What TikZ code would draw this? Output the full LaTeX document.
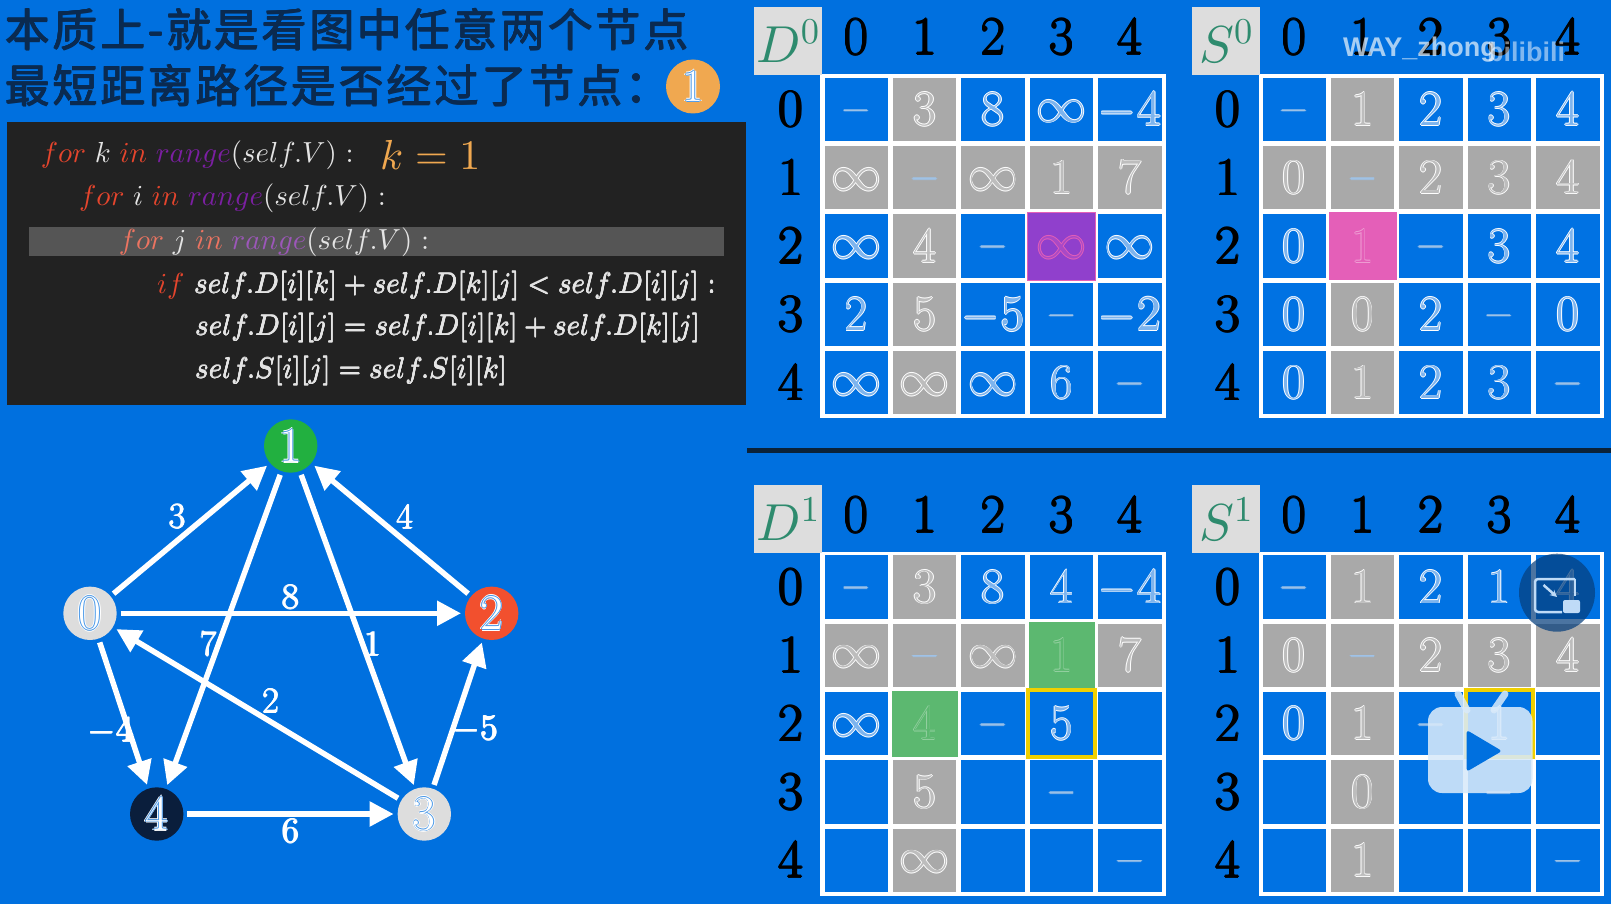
\documentclass[tikz,border=0pt]{standalone}
\usepackage{fontspec}
\usetikzlibrary{arrows.meta}
\DeclareFontShape{OML}{cmm}{m}{it}{<-> cmmi10}{}
\DeclareFontShape{OMS}{cmsy}{m}{n}{<-> cmsy10}{}
\DeclareFontShape{OT1}{cmr}{m}{n}{<-> cmr10}{}
\newfontfamily\cjk[LetterSpace=6]{Noto Sans CJK SC}
\newfontfamily\wmfont{Liberation Sans}
\definecolor{bgblue}{HTML}{0070DF}
\definecolor{cellblue}{HTML}{0072E3}
\definecolor{cellgray}{HTML}{A9A9A9}
\definecolor{boxgray}{HTML}{DDDDDD}
\definecolor{holblue}{HTML}{7DB4EE}
\definecolor{holgray}{HTML}{BDBDBD}
\definecolor{titlec}{HTML}{0A2A50}
\definecolor{dashc}{HTML}{9FC3E8}
\definecolor{navy}{HTML}{0B2238}
\definecolor{codebg}{HTML}{222222}
\definecolor{hilite}{HTML}{555555}
\definecolor{kwred}{HTML}{E5452D}
\definecolor{kwpur}{HTML}{7B1FA2}
\definecolor{codew}{HTML}{E4E4E4}
\definecolor{orangec}{HTML}{F0A850}
\definecolor{dgreen}{HTML}{2E8B6E}
\definecolor{ngreen}{HTML}{22B040}
\definecolor{nred}{HTML}{F2502E}
\definecolor{nnavy}{HTML}{0A1E3C}
\definecolor{cgreen}{HTML}{5CB870}
\definecolor{cpurple}{HTML}{9040CC}
\definecolor{cpink}{HTML}{E45FB8}
\definecolor{yellowc}{HTML}{F0D000}
\newsavebox\hb
\newcommand\hol[4][.8pt]{\setbox\hb=\hbox{#4}\leavevmode{\color{#2}%
  \rlap{\kern#1\copy\hb}\rlap{\kern-#1\copy\hb}\rlap{\raisebox{#1}{\copy\hb}}\rlap{\raisebox{-#1}{\copy\hb}}}{\color{#3}\copy\hb}}
\newcommand\ndig[1]{\rlap{\hol[1.7pt]{white}{white}{#1}}\rlap{\hol[.8pt]{holblue!60!bgblue}{holblue!60!bgblue}{#1}}{\color{white}#1}}
\newcommand\I{\raisebox{.07em}{$\infty$}}
\newcommand\M[1]{$-#1$}
\newcommand\Dh{\textcolor{dashc}{\raisebox{.03em}{–}}}
\newcommand\N{}
\newcommand\codefs{\fontsize{29}{34}\selectfont}
\newcommand\codet[1]{\hol[.2pt]{codew}{codew}{#1}}
\tikzset{
  x=1pt,y=-1pt,
  celln/.style={rectangle,inner sep=0pt,outer sep=0pt,minimum width=63.4pt,minimum height=63.4pt,
    font=\fontsize{50}{60}\selectfont,text height=32.2pt,text depth=0pt},
  hdr/.style={inner sep=0pt,font=\fontsize{54}{64}\selectfont,text height=34.8pt,text depth=0pt,text=black},
  lblbox/.style={rectangle,fill=boxgray,inner sep=0pt,minimum width=68pt,minimum height=68pt,
    font=\fontsize{52}{60}\selectfont,text=dgreen},
  gridbg/.style={fill=white,draw=none},
  codeline/.style={anchor=base west,inner sep=0pt,font=\codefs,text=codew},
  titleline/.style={anchor=base west,inner sep=0pt,font=\fontsize{45}{50}\selectfont\cjk},
  gnode/.style={circle,inner sep=0pt,outer sep=4pt,minimum size=53.4pt,font=\fontsize{50}{60}\selectfont,text height=32.2pt,text depth=0pt},
  edge/.style={draw=white,line width=5.5pt,-{Triangle[length=24pt,width=24pt]}},
  elabel/.style={inner sep=0pt,text=white,font=\fontsize{36}{40}\selectfont,text height=23.2pt,text depth=0pt},
  yellowbox/.style={rectangle,draw=yellowc,line width=3.5pt,fill=none,minimum width=67pt,minimum height=67pt,inner sep=0pt},
}
\newcommand\elab[1]{\hol[.6pt]{white}{white}{#1}}
\newcommand\gridtab[4]{%
  \foreach \rowvals [count=\r from 0] in {#4} {
    \foreach \v [count=\c from 0] in \rowvals {
      \pgfmathsetmacro\cx{#2+68.4*\c}
      \pgfmathsetmacro\cy{#3+68.3*\r}
      \def\cf{cellblue}\def\ci{holblue}
      \ifnum\r=1 \def\cf{cellgray}\def\ci{holgray}\fi
      \ifnum\c=1 \def\cf{cellgray}\def\ci{holgray}\fi
      \node[celln,fill=\cf] (#1-\r-\c) at (\cx,\cy) {\hol{white}{\ci}{\v}};
    }
  }
}
\newcommand\headers[5]{% prefix, x col0, y header, x rowhdr, y row0
  \foreach \h [count=\c from 0] in {0,1,2,3,4} {
    \pgfmathsetmacro\cx{#2+68.4*\c}
    \pgfmathsetmacro\cy{#5+68.3*\c}
    \node[hdr] (#1-c\c) at (\cx,#3) {\hol[.7pt]{black}{black}{\h}};
    \node[hdr] (#1-r\c) at (#4,\cy) {\hol[.7pt]{black}{black}{\h}};
  }
}
\begin{document}
\begin{tikzpicture}
\useasboundingbox (0,0) rectangle (1611,904);
\fill[bgblue] (0,0) rectangle (1611,904);

% title
\node[titleline] (title1) at (5,47) {\hol[.45pt]{titlec}{titlec}{本质上-就是看图中任意两个节点}};
\node[titleline] (title2) at (5,103) {\hol[.45pt]{titlec}{titlec}{最短距离路径是否经过了节点：}};
\node[circle,fill=orangec,inner sep=0pt,minimum size=54pt,font=\fontsize{46}{50}\selectfont,text height=29.6pt,text depth=0pt] (titlenode) at (693,86.5) {\ndig{1}};

% code panel
\fill[codebg] (6.5,122) rectangle (746,405);
\fill[hilite] (28.7,227) rectangle (724,256);
\node[codeline] (c1) at (40.7,163) {$\textcolor{kwred}{for}\ k\ \textcolor{kwred}{in}\ \textcolor{kwpur}{range}(self.V)\ {:}$};
\node[anchor=base west,inner sep=0pt,text=orangec,font=\fontsize{42}{46}\selectfont] (kval) at (380,170) {$k=1$};
\node[codeline] (c2) at (79,206) {$\textcolor{kwred}{for}\ i\ \textcolor{kwred}{in}\ \textcolor{kwpur}{range}(self.V)\ {:}$};
\node[codeline] (c3) at (118.7,249) {$\textcolor{kwred!75!white}{for}\ j\ \textcolor{kwred!75!white}{in}\ \textcolor{kwpur!75!white}{range}(self.V)\ {:}$};
\node[codeline] (c4) at (157,293) {$\textcolor{kwred}{if}$};
\node[codeline] (c4b) at (194,293) {\codet{$self.D[i][k]+self.D[k][j]<self.D[i][j]\ {:}$}};
\node[codeline] (c5) at (195,335) {\codet{$self.D[i][j]=self.D[i][k]+self.D[k][j]$}};
\node[codeline] (c6) at (195,378) {\codet{$self.S[i][j]=self.S[i][k]$}};

% graph
\node[gnode,fill=ngreen] (n1) at (290.7,446) {\ndig{1}};
\node[gnode,fill=boxgray] (n0) at (90,613.3) {\ndig{0}};
\node[gnode,fill=nred] (n2) at (491.7,613.3) {\ndig{2}};
\node[gnode,fill=boxgray] (n3) at (424.3,814) {\ndig{3}};
\node[gnode,fill=nnavy] (n4) at (156.7,814) {\ndig{4}};
\draw[edge] (n0) -- (n1);
\draw[edge] (n0) -- (n2);
\draw[edge] (n0) -- (n4);
\draw[edge] (n1) -- (n3);
\draw[edge] (n1) -- (n4);
\draw[edge] (n2) -- (n1);
\draw[edge] (n3) -- (n0);
\draw[edge] (n3) -- (n2);
\draw[edge] (n4) -- (n3);
\node[elabel] (e01) at (177.3,516.7) {\elab{3}};
\node[elabel] (e21) at (405,517.3) {\elab{4}};
\node[elabel] (e02) at (290.7,597.3) {\elab{8}};
\node[elabel] (e14) at (208.3,644.3) {\elab{7}};
\node[elabel] (e13) at (372.7,644.3) {\elab{1}};
\node[elabel] (e30) at (271,701) {\elab{2}};
\node[elabel] (e04) at (110.7,730) {\elab{$-4$}};
\node[elabel] (e32) at (475,728.3) {\elab{$-5$}};
\node[elabel] (e43) at (290.7,831) {\elab{6}};

% separator
\coordinate (sepl) at (747,450.5);
\coordinate (sepr) at (1611,450.5);
\draw[navy,line width=4.5pt] (sepl) -- (sepr);

% D0
\fill[gridbg] (820.3,74) rectangle (1165.7,418);
\gridtab{Da}{856.3}{109.5}{{\Dh,3,8,\I,\M4},{\I,\Dh,\I,1,7},{\I,4,\Dh,\N,\I},{2,5,\M5,\Dh,\M2},{\I,\I,\I,6,\Dh}}
\node[lblbox] (Dalbl) at (788,41) {$D^0$};
\headers{Da}{856.3}{37}{791}{109.5}
\node[celln,minimum width=68pt,minimum height=68pt,fill=cpurple,draw=cpink,line width=1pt] (Dahl) at (Da-2-3) {\hol{cpink}{cpurple!70!cpink}{\I}};

% S0
\fill[gridbg] (1258.5,74) rectangle (1604,418);
\gridtab{Sa}{1294.2}{109.5}{{\Dh,1,2,3,4},{0,\Dh,2,3,4},{0,\N,\Dh,3,4},{0,0,2,\Dh,0},{0,1,2,3,\Dh}}
\node[lblbox] (Salbl) at (1226,41) {$S^0$};
\headers{Sa}{1294.2}{37}{1228}{109.5}
\node[celln,minimum width=68pt,minimum height=68pt,fill=cpink] (Sahl) at (Sa-2-1) {\hol{cpink!60!white}{cpink}{1}};

% D1
\fill[gridbg] (820.3,551.7) rectangle (1165.7,896);
\gridtab{Db}{856.3}{587}{{\Dh,3,8,4,\M4},{\I,\Dh,\I,\N,7},{\I,\N,\Dh,5,\N},{\N,5,\N,\Dh,\N},{\N,\I,\N,\N,\Dh}}
\node[lblbox] (Dblbl) at (788,519) {$D^1$};
\headers{Db}{856.3}{515}{791}{587}
\node[celln,minimum width=66pt,minimum height=66pt,fill=cgreen] (Dbg1) at (Db-1-3) {\hol[.6pt]{cgreen!65!white}{cgreen}{1}};
\node[celln,minimum width=66pt,minimum height=66pt,fill=cgreen] (Dbg2) at (Db-2-1) {\hol[.6pt]{cgreen!65!white}{cgreen}{4}};
\node[yellowbox] (Dby) at (Db-2-3) {};

% S1
\fill[gridbg] (1258.5,551.7) rectangle (1604,896);
\gridtab{Sb}{1294.2}{587}{{\Dh,1,2,1,4},{0,\Dh,2,3,4},{0,1,\Dh,1,\N},{\N,0,\N,\Dh,\N},{\N,1,\N,\N,\Dh}}
\node[lblbox] (Sblbl) at (1226,519) {$S^1$};
\headers{Sb}{1294.2}{515}{1228}{587}
\node[yellowbox] (Sby) at (Sb-2-3) {};

% overlay marks of the video player
\node[anchor=base west,inner sep=0pt,text=white!88!bgblue,text opacity=.75,font=\fontsize{27}{30}\selectfont\bfseries\wmfont,xscale=1] (wm) at (1343,57) {WAY\_zhong};
\node[anchor=base west,inner sep=0pt,text=white,text opacity=.5,font=\fontsize{27}{30}\selectfont\bfseries\wmfont] (wm2) at (1487,62) {bilibili};

\fill[nnavy!60!bgblue,opacity=.72] (1557,592.7) circle[x radius=38pt,y radius=39pt];
\draw[white!75!bgblue,line width=2.5pt,rounded corners=3pt] (1575,579) -- (1535,579) -- (1535,612) -- (1562,612);
\draw[white!75!bgblue,line width=2.5pt] (1575,579) -- (1575,596);
\fill[white!75!bgblue,rounded corners=2pt] (1563,600) rectangle (1580,613);
\draw[white!75!bgblue,line width=2.5pt,-{Stealth[length=7pt,width=7pt]}] (1543.5,585) -- (1557,597);

\draw[white!85!bgblue,line width=7pt,line cap=round,opacity=.85] (1458,694) -- (1467,710);
\draw[white!85!bgblue,line width=7pt,line cap=round,opacity=.85] (1505,694) -- (1494,710);
\fill[white!85!bgblue,opacity=.88,rounded corners=14pt] (1428,707) rectangle (1532.5,793);
\fill[bgblue,rounded corners=3pt] (1466.6,730) -- (1502,751) -- (1466.6,771.7) -- cycle;
\end{tikzpicture}
\end{document}
